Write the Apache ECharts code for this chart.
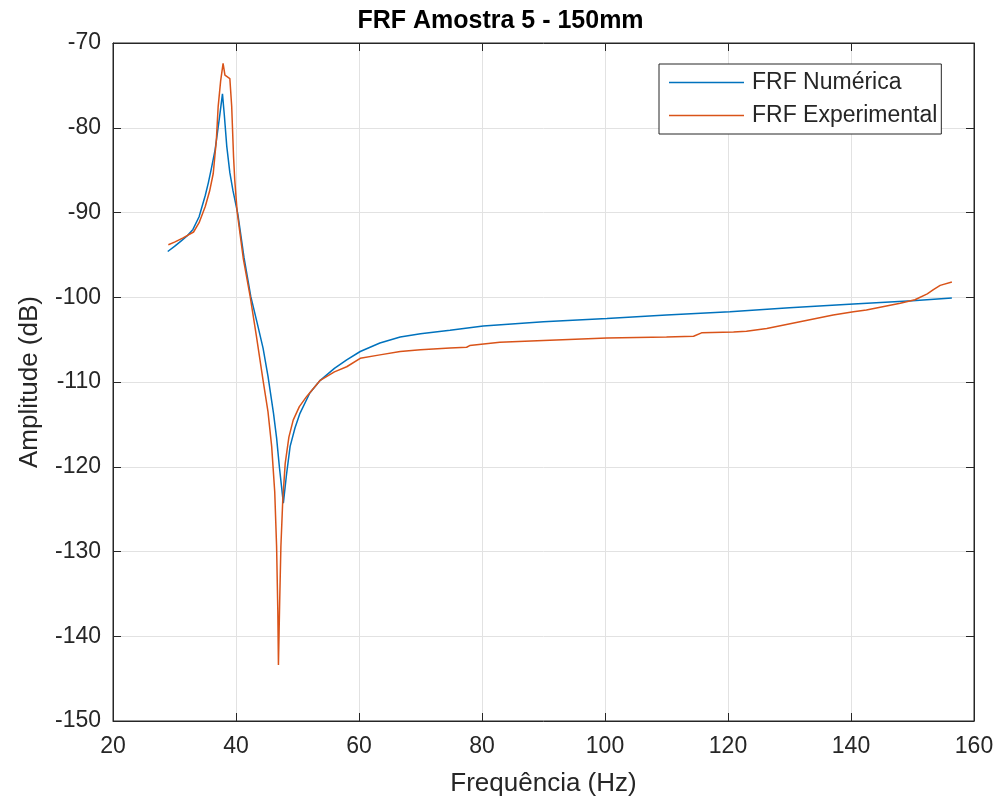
<!DOCTYPE html>
<html>
<head>
<meta charset="utf-8">
<script src="https://cdn.jsdelivr.net/npm/echarts@6/dist/echarts.min.js"></script>
<style>html,body{margin:0;padding:0;background:#fff;}#c{width:1001px;height:810px;}</style>
</head>
<body>
<div id="c"></div>
<script>
const xTicks = [20, 40, 60, 80, 100, 120, 140, 160];
const yTicks = [-150, -140, -130, -120, -110, -100, -90, -80, -70];

const freqNum = [28.9, 30.0, 31.0, 32.0, 33.0, 34.0, 35.0, 35.5, 36.0, 36.6, 37.0, 37.4, 37.8, 38.1, 38.5, 39.0, 39.5, 40.3, 41.3, 42.4, 43.4, 44.4, 45.2, 46.1, 46.6, 47.05, 47.7, 48.2, 48.8, 49.6, 50.4, 52.0, 53.7, 56.0, 58.0, 60.2, 63.4, 66.7, 70.0, 74.8, 80.2, 90.0, 100.3, 110.0, 120.3, 130.0, 140.4, 150.0, 156.4];
const ampNum  = [-94.6, -94.0, -93.4, -92.8, -92.0, -90.5, -88.0, -86.5, -84.8, -82.6, -80.5, -78.3, -76.0, -78.5, -82.2, -85.3, -87.4, -90.2, -95.3, -99.9, -102.9, -106.0, -109.3, -113.7, -116.6, -120.0, -124.3, -121.0, -117.6, -115.4, -113.7, -111.3, -109.8, -108.4, -107.4, -106.4, -105.4, -104.7, -104.3, -103.9, -103.4, -102.9, -102.5, -102.1, -101.7, -101.25, -100.8, -100.4, -100.1];

const freqExp = [29.0, 30.0, 31.4, 33.1, 34.0, 35.0, 35.7, 36.3, 36.8, 37.1, 37.5, 37.9, 38.2, 38.5, 39.0, 39.3, 39.6, 39.8, 40.2, 41.2, 42.3, 43.3, 44.4, 45.2, 45.8, 46.3, 46.6, 46.8, 46.9, 47.1, 47.3, 47.6, 48.0, 48.6, 49.3, 50.3, 51.5, 53.7, 56.0, 58.0, 60.2, 63.4, 66.7, 70.0, 74.8, 77.5, 78.0, 82.9, 90.0, 100.3, 110.0, 114.4, 115.7, 120.9, 123.0, 126.3, 131.7, 137.1, 140.4, 142.5, 148.0, 150.4, 152.4, 153.4, 154.5, 156.4];
const ampExp  = [-93.8, -93.5, -93.0, -92.3, -91.2, -89.3, -87.5, -85.4, -81.5, -77.5, -74.5, -72.4, -73.8, -73.9, -74.2, -77.5, -83.4, -86.2, -90.0, -95.5, -99.9, -104.5, -109.8, -113.5, -117.6, -123.0, -129.4, -137.0, -143.4, -136.0, -129.4, -124.0, -119.6, -116.5, -114.5, -112.9, -111.7, -109.8, -108.8, -108.2, -107.2, -106.8, -106.4, -106.2, -106.0, -105.9, -105.7, -105.3, -105.1, -104.8, -104.7, -104.6, -104.2, -104.1, -104.0, -103.7, -102.9, -102.1, -101.7, -101.5, -100.7, -100.3, -99.6, -99.1, -98.6, -98.2];

const seriesNames = ['FRF Numérica', 'FRF Experimental'];

const FONT = '"Liberation Sans", Arial, Helvetica, sans-serif';
const AX = '#262626';

const chart = echarts.init(document.getElementById('c'), null, {renderer: 'canvas'});
const xMin = xTicks[0], xMax = xTicks[xTicks.length - 1];
const yMin = yTicks[0], yMax = yTicks[yTicks.length - 1];

const baseAxis = {
  type: 'value',
  axisLine: {show: true, lineStyle: {color: AX, width: 1}},
  axisTick: {show: true, inside: true, length: 8, lineStyle: {color: AX}},
  splitLine: {show: false},
  axisLabel: {show: false}
};

const lineIcon = 'path://M0,0H100V2H0Z';

chart.setOption({
  animation: false,
  backgroundColor: '#fff',
  title: {
    text: 'FRF Amostra 5 - 150mm',
    left: 'center', top: 4,
    textStyle: {fontFamily: FONT, fontSize: 25, fontWeight: 'bold', color: '#000'}
  },
  legend: {
    data: seriesNames.map(n => ({name: n, icon: lineIcon})),
    orient: 'vertical',
    left: 659, top: 64,
    padding: [7, 4, 7, 10],
    itemGap: 10,
    itemWidth: 77, itemHeight: 1.5,
    backgroundColor: '#fff',
    borderColor: AX, borderWidth: 1,
    textStyle: {fontFamily: FONT, fontSize: 23, color: AX, padding: [0, 0, 0, 2]}
  },
  grid: {left: 113, right: 27, top: 43, bottom: 89, show: true, borderColor: AX, borderWidth: 1, backgroundColor: 'transparent'},
  xAxis: [{
    type: 'value', min: xMin, max: xMax, interval: 20,
    name: 'Frequência (Hz)', nameLocation: 'middle', nameGap: 50,
    nameTextStyle: {fontFamily: FONT, fontSize: 26, color: AX},
    axisLine: {show: true, lineStyle: {color: AX, width: 1}},
    axisTick: {show: true, inside: true, length: 8, lineStyle: {color: AX}},
    axisLabel: {fontFamily: FONT, fontSize: 23, color: AX, margin: 14},
    splitLine: {show: true, lineStyle: {color: '#e2e2e2', width: 1}}
  }, Object.assign({}, baseAxis, {position: 'top', min: xMin, max: xMax, interval: 20})],
  yAxis: [{
    type: 'value', min: yMin, max: yMax, interval: 10,
    name: 'Amplitude (dB)', nameLocation: 'middle', nameGap: 70,
    nameTextStyle: {fontFamily: FONT, fontSize: 26, color: AX},
    axisLine: {show: true, lineStyle: {color: AX, width: 1}},
    axisTick: {show: true, inside: true, length: 8, lineStyle: {color: AX}},
    axisLabel: {fontFamily: FONT, fontSize: 23, color: AX, margin: 12},
    splitLine: {show: true, lineStyle: {color: '#e2e2e2', width: 1}}
  }, Object.assign({}, baseAxis, {position: 'right', min: yMin, max: yMax, interval: 10})],
  series: [{
    name: seriesNames[0], type: 'line', symbol: 'none', smooth: false,
    data: freqNum.map((f, i) => [f, ampNum[i]]),
    lineStyle: {color: '#0072BD', width: 1.5}, itemStyle: {color: '#0072BD'}
  }, {
    name: seriesNames[1], type: 'line', symbol: 'none', smooth: false,
    data: freqExp.map((f, i) => [f, ampExp[i]]),
    lineStyle: {color: '#D95319', width: 1.5}, itemStyle: {color: '#D95319'}
  }]
});
</script>
</body>
</html>
